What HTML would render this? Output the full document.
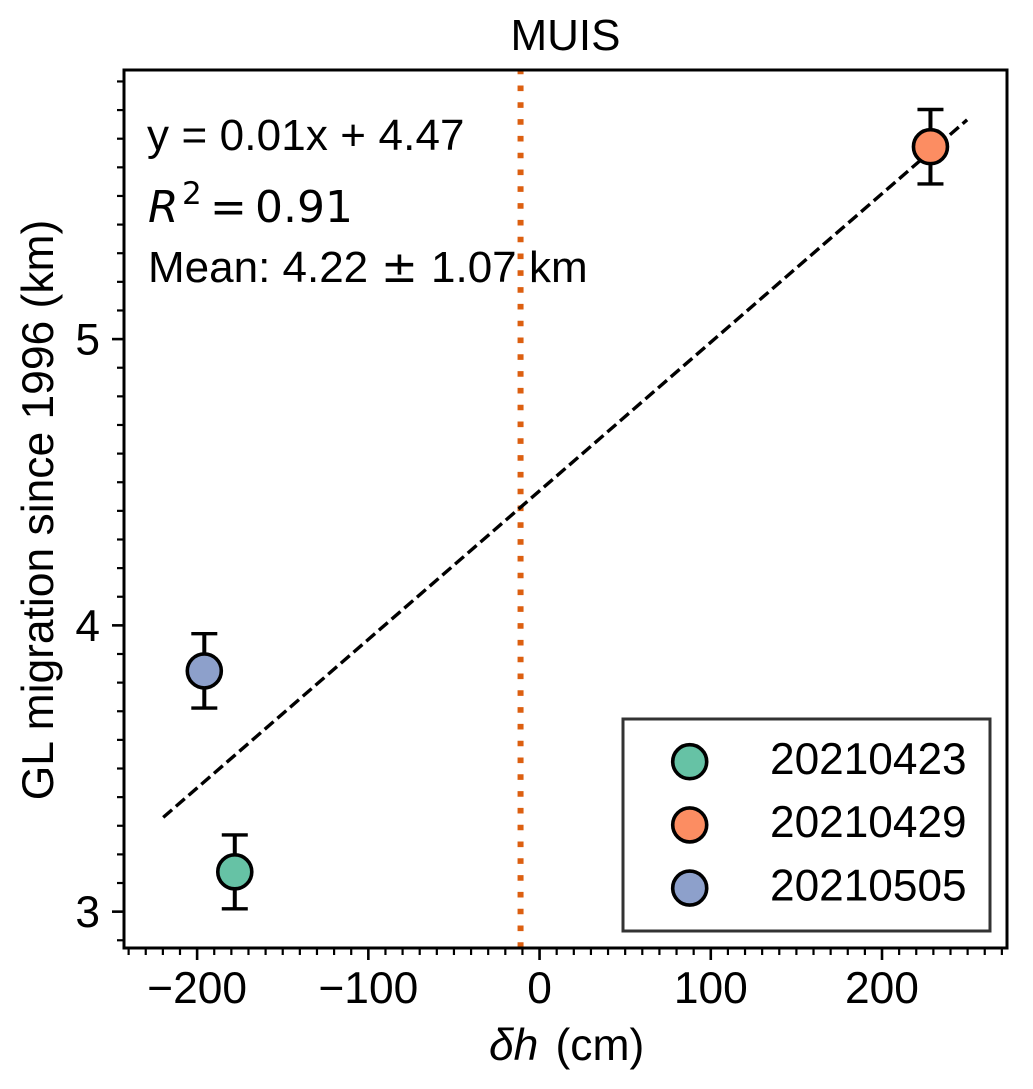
<!DOCTYPE html>
<html lang="en">
<head>
<meta charset="utf-8">
<title>MUIS</title>
<style>
html,body{margin:0;padding:0;background:#fff;width:1033px;height:1089px;overflow:hidden}
svg{display:block}
text{font-family:"Liberation Sans",Arial,sans-serif;fill:#000}
.dj{font-family:"DejaVu Sans",sans-serif}
</style>
</head>
<body>
<svg id="chart" width="1033" height="1089" viewBox="0 0 1033 1089" xmlns="http://www.w3.org/2000/svg">
  <text x="565.5" y="50" font-size="44" text-anchor="middle">MUIS</text>
  <text y="1060" font-size="44.4"><tspan x="489" font-style="italic">δh</tspan><tspan x="555.5">(cm)</tspan></text>
  <text transform="translate(53 510) rotate(-90)" font-size="44.4" text-anchor="middle">GL migration since 1996 (km)</text>
  <g id="ticks"></g>
  <g id="refline"></g>
  <g id="fit"></g>
  <g id="points"></g>
  <rect x="124" y="70" width="883" height="878" fill="none" stroke="#000" stroke-width="3"/>
  <text x="147" y="150" font-size="44" letter-spacing="0.13">y = 0.01x + 4.47</text>
  <text y="222" font-size="44" class="dj"><tspan class="dj" x="148" font-style="italic">R</tspan><tspan class="dj" font-size="31" x="182" y="204">2</tspan><tspan class="dj" x="210" y="222">=</tspan><tspan class="dj" x="255" y="222">0.91</tspan></text>
  <text y="282" font-size="44"><tspan x="148">Mean: 4.22</tspan><tspan class="dj" x="381">±</tspan><tspan x="431">1.07</tspan><tspan x="529">km</tspan></text>
  <rect x="623" y="719" width="367" height="212" fill="#fff" stroke="#333" stroke-width="3"/>
  <g id="legend"></g>
</svg>
<script>
const dates = ['20210423', '20210429', '20210505'];
const colors = ['#66c2a5', '#fc8d62', '#8da0cb'];
const dh = [-178, 228.3, -195.8];
const migration = [3.139, 5.672, 3.841];
const migrationErr = [0.129, 0.13, 0.13];
const xMajorTicks = [-200, -100, 0, 100, 200];
const yMajorTicks = [3, 4, 5];
const xMinorStep = [10];
const yMinorStep = [0.1];
const xLimits = [-242.7, 273];
const yLimits = [2.873, 5.94];
const fitX = [-219.8, 249.7];
const fitSlope = [0.00519];
const fitIntercept = [4.47];
const referenceX = [-11.1];

const NS = 'http://www.w3.org/2000/svg';
const plot = {left: 124, right: 1007, top: 70, bottom: 948};
function sx(v){ return plot.left + (v - xLimits[0]) / (xLimits[1] - xLimits[0]) * (plot.right - plot.left); }
function sy(v){ return plot.bottom - (v - yLimits[0]) / (yLimits[1] - yLimits[0]) * (plot.bottom - plot.top); }
function make(tag, attrs, parent, content){
  const el = document.createElementNS(NS, tag);
  for (const k in attrs) el.setAttribute(k, attrs[k]);
  if (content !== undefined) el.textContent = content;
  parent.appendChild(el);
  return el;
}
function lbl(v){ return v < 0 ? '\u2212' + Math.abs(v) : String(v); }

const ticks = document.getElementById('ticks');
const xStep = xMinorStep[0];
for (let i = Math.ceil(xLimits[0] / xStep); i * xStep <= xLimits[1]; i++) {
  const v = i * xStep;
  if (xMajorTicks.includes(v)) continue;
  const t = make('line', {x1: sx(v), x2: sx(v), y1: plot.bottom, y2: plot.bottom + 7, stroke: '#000', 'stroke-width': 2.2}, ticks);
  
  
}
const yStep = yMinorStep[0];
for (let i = Math.ceil(yLimits[0] / yStep); i * yStep <= yLimits[1]; i++) {
  const v = i * yStep;
  if (yMajorTicks.some(m => Math.abs(m - v) < 1e-6)) continue;
  const t = make('line', {x1: plot.left - 7, x2: plot.left, y1: sy(v), y2: sy(v), stroke: '#000', 'stroke-width': 2.2}, ticks);
  
  
}
xMajorTicks.forEach(v => {
  const t = make('line', {x1: sx(v), x2: sx(v), y1: plot.bottom, y2: plot.bottom + 12, stroke: '#000', 'stroke-width': 2.6}, ticks);
  
  
  const l = make('text', {x: sx(v), y: 1003, 'font-size': 44.3, 'text-anchor': 'middle'}, ticks, lbl(v));
  
  
});
yMajorTicks.forEach(v => {
  const t = make('line', {x1: plot.left - 12, x2: plot.left, y1: sy(v), y2: sy(v), stroke: '#000', 'stroke-width': 2.6}, ticks);
  
  
  const l = make('text', {x: 100, y: sy(v) + 15.5, 'font-size': 44.3, 'text-anchor': 'end'}, ticks, lbl(v));
  
  
});

const ref = make('line', {x1: sx(referenceX[0]), x2: sx(referenceX[0]), y1: plot.top, y2: plot.bottom, stroke: '#dc5f10', 'stroke-width': 6, 'stroke-dasharray': '5.6 11.2', 'stroke-dashoffset': 1.3}, document.getElementById('refline'));



const fitLine = make('line', {x1: sx(fitX[0]), y1: sy(fitSlope[0] * fitX[0] + fitIntercept[0]), x2: sx(fitX[1]), y2: sy(fitSlope[0] * fitX[1] + fitIntercept[0]), stroke: '#000', 'stroke-width': 3.4, 'stroke-dasharray': '11.7 5.1'}, document.getElementById('fit'));



const pts = document.getElementById('points');
dates.forEach((d, i) => {
  const cx = sx(dh[i]);
  const cy = sy(migration[i]);
  const hi = sy(migration[i] + migrationErr[i]);
  const lo = sy(migration[i] - migrationErr[i]);
  const stem = make('line', {x1: cx, x2: cx, y1: hi, y2: lo, stroke: '#000', 'stroke-width': 4}, pts);
  
  
  const capTop = make('line', {x1: cx - 13, x2: cx + 13, y1: hi, y2: hi, stroke: '#000', 'stroke-width': 3.4}, pts);
  
  
  const capBottom = make('line', {x1: cx - 13, x2: cx + 13, y1: lo, y2: lo, stroke: '#000', 'stroke-width': 3.4}, pts);
  
  
  const dot = make('circle', {cx: cx, cy: cy, r: 17, fill: colors[i], stroke: '#000', 'stroke-width': 3.6}, pts);
  
  
});

const legend = document.getElementById('legend');
dates.forEach((d, i) => {
  const y = 761.7 + i * 63.2;
  const m = make('circle', {cx: 689.7, cy: y, r: 17, fill: colors[i], stroke: '#000', 'stroke-width': 3.6}, legend);
  
  
  const t = make('text', {x: 770, y: y + 12.3, 'font-size': 44.2}, legend, d);
  
  
});
</script>
</body>
</html>
